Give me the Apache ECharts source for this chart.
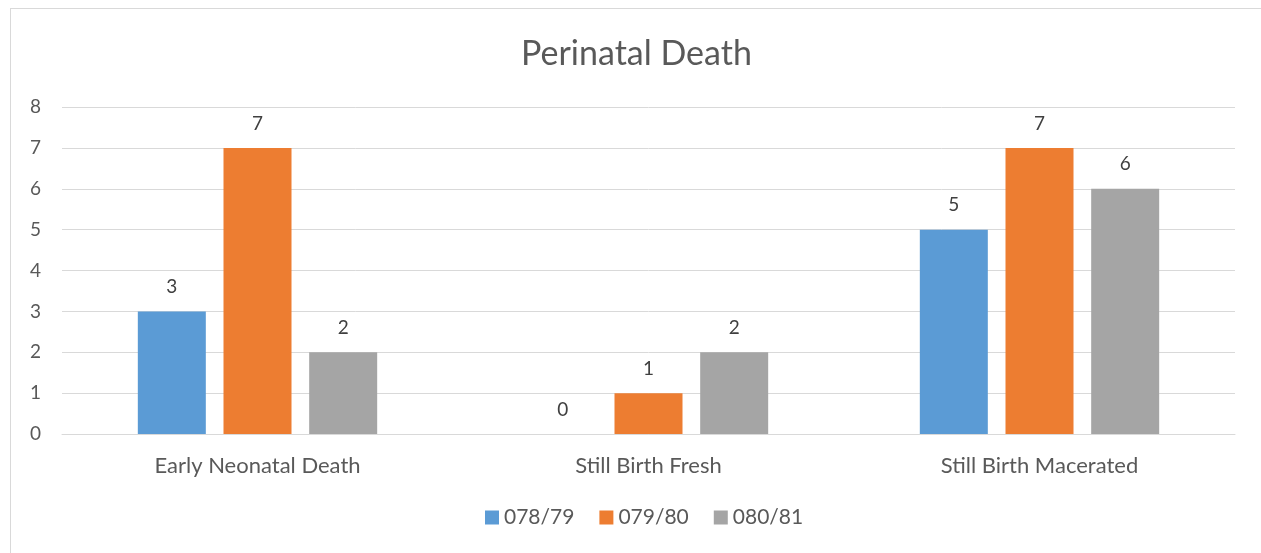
<!DOCTYPE html>
<html>
<head>
<meta charset="utf-8">
<script src="https://cdn.jsdelivr.net/npm/echarts@6/dist/echarts.min.js"></script>
<style>
  html, body { margin: 0; padding: 0; background: #fff; }
  #frame { position: absolute; left: 10px; top: 8px; right: -2px; bottom: -2px; border: 1px solid #d9d9d9; }
  #chart { position: absolute; left: 0; top: 0; width: 1261px; height: 553px; }
</style>
</head>
<body>
<div id="frame"></div>
<div id="chart"></div>
<script>
  const categories = ["Early Neonatal Death", "Still Birth Fresh", "Still Birth Macerated"];
  const seriesNames = ["078/79", "079/80", "080/81"];
  const values078 = [3, 0, 5];
  const values079 = [7, 1, 7];
  const values080 = [2, 2, 6];
  const colors = ["#5b9bd5", "#ed7d31", "#a5a5a5"];

  const chart = echarts.init(document.getElementById("chart"));
  const font = "Lato, 'Open Sans', sans-serif";
  const makeSeries = (name, data) => ({
    name: name,
    type: "bar",
    data: data,
    barWidth: 68,
    barGap: "26%",
    label: {
      show: true,
      position: "top",
      distance: 15,
      color: "#404040",
      fontSize: 19,
      fontFamily: font
    }
  });
  const option = {
    backgroundColor: "transparent",
    color: colors,
    title: {
      text: "Perinatal Death",
      left: 516,
      top: 32,
      textStyle: { color: "#595959", fontSize: 34, fontWeight: "normal", fontFamily: font }
    },
    legend: {
      data: seriesNames,
      bottom: 20,
      left: 480,
      itemWidth: 14,
      itemHeight: 14,
      itemGap: 25,
      icon: "rect",
      textStyle: { color: "#595959", fontSize: 21, fontFamily: font }
    },
    grid: { left: 62, right: 26, top: 107, bottom: 119 },
    xAxis: {
      type: "category",
      data: categories,
      axisLine: { lineStyle: { color: "#d9d9d9", width: 1 } },
      axisTick: { show: false },
      axisLabel: { color: "#595959", fontSize: 22, margin: 21, fontFamily: font }
    },
    yAxis: {
      type: "value",
      min: 0,
      max: 8,
      interval: 1,
      axisLine: { show: false },
      axisTick: { show: false },
      splitLine: { lineStyle: { color: "#d9d9d9", width: 1 } },
      axisLabel: { color: "#595959", fontSize: 19, margin: 21, fontFamily: font }
    },
    series: [
      makeSeries(seriesNames[0], values078),
      makeSeries(seriesNames[1], values079),
      makeSeries(seriesNames[2], values080)
    ]
  };
  chart.setOption(option);
</script>
</body>
</html>
